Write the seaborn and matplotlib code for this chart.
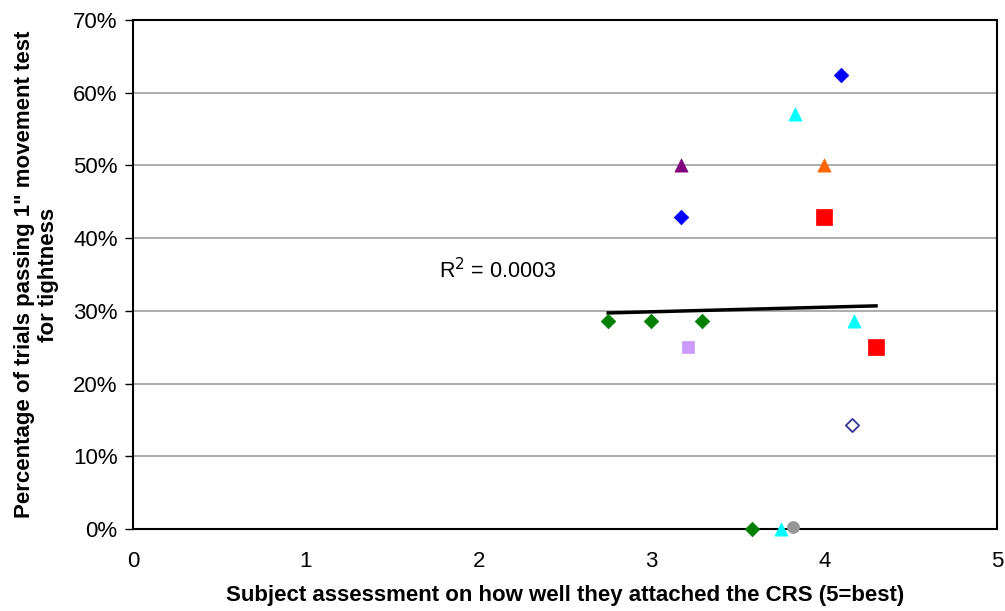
import numpy as np
import pandas as pd
import matplotlib
matplotlib.use("Agg")
import matplotlib.pyplot as plt
import seaborn as sns
from matplotlib.ticker import PercentFormatter

# === Data
assessment = [4.10, 3.83, 3.17, 4.00, 3.17, 4.00, 2.75, 3.00, 3.29, 4.17, 3.21, 4.30, 4.16, 3.58, 3.75, 3.82]
pass_pct = [62.5, 57.1, 50.0, 50.0, 42.9, 42.9, 28.6, 28.6, 28.6, 28.6, 25.0, 25.0, 14.3, 0.0, 0.0, 0.3]
subject = ["s1", "s2", "s3", "s4", "s1", "s5", "s6", "s6", "s6", "s2", "s7", "s5", "s8", "s6", "s2", "s9"]

# === Style per subject
STYLES = {
    "s1": dict(marker="D", color="#0000FF", edge="#0000FF", s=55),
    "s2": dict(marker="^", color="#00FFFF", edge="#00FFFF", s=90),
    "s3": dict(marker="^", color="#800080", edge="#800080", s=90),
    "s4": dict(marker="^", color="#FF6600", edge="#FF6600", s=90),
    "s5": dict(marker="s", color="#FF0000", edge="#FF0000", s=140),
    "s6": dict(marker="D", color="#008000", edge="#008000", s=55),
    "s7": dict(marker="s", color="#CC99FF", edge="#CC99FF", s=70),
    "s8": dict(marker="D", color="white", edge="#333399", s=45),
    "s9": dict(marker="o", color="#969696", edge="#969696", s=75),
}

df = pd.DataFrame({"x": assessment, "y": pass_pct, "subject": subject})

plt.rcParams["font.family"] = ["Liberation Sans", "DejaVu Sans"]
FS = 16

fig = plt.figure(figsize=(10.05, 6.11), dpi=100)
ax = fig.add_axes([133 / 1005, 1 - 529 / 611, (997 - 133) / 1005, (529 - 20) / 611])

# === Linear trendline over all points
slope, intercept = np.polyfit(df["x"], df["y"], 1)
xs = np.array([df["x"].min(), df["x"].max()])
sns.lineplot(x=xs, y=slope * xs + intercept, color="black", linewidth=2.5, ax=ax, zorder=2)

for name, grp in df.groupby("subject"):
    st = STYLES[name]
    sns.scatterplot(data=grp, x="x", y="y", marker=st["marker"], color=st["color"],
                    edgecolor=st["edge"], linewidth=1.3 if st["color"] == "white" else 0.5,
                    s=st["s"], ax=ax, zorder=3, clip_on=False)

ax.text(1.77, 35.5, "R$^2$ = 0.0003", fontsize=15.5, va="center", ha="left")

# === Axes
ax.set_xlim(0, 5)
ax.set_ylim(0, 70)
ax.set_xticks(range(0, 6))
ax.set_yticks(range(0, 71, 10))
ax.yaxis.set_major_formatter(PercentFormatter(decimals=0))
ax.grid(axis="y", color="#a6a6a6", linewidth=1.3)
ax.set_axisbelow(True)
for sp in ax.spines.values():
    sp.set_color("black")
    sp.set_linewidth(1.5)
ax.tick_params(axis="x", length=0, pad=16, labelsize=FS)
ax.tick_params(axis="y", length=6, width=1, pad=5, labelsize=FS)

ax.set_xlabel("Subject assessment on how well they attached the CRS (5=best)",
              fontsize=FS, fontweight="bold", labelpad=9)
ax.set_ylabel("Percentage of trials passing 1\" movement test\nfor tightness",
              fontsize=FS, fontweight="bold", labelpad=10)

fig.savefig("out.png", dpi=100)
plt.close(fig)
